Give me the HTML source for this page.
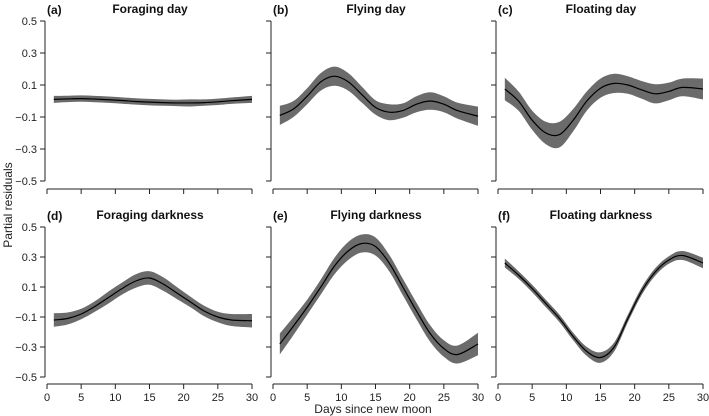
<!DOCTYPE html>
<html><head><meta charset="utf-8"><style>
body{margin:0;background:#fff}
svg{display:block;font-family:"Liberation Sans",Arial,sans-serif}
</style></head><body>
<svg id="c" width="709" height="416"></svg>
<script>
const days=[1,3,5,7,9,11,13,15,17,19,21,23,25,27,30];
const fitA=[0.01,0.013,0.015,0.012,0.008,0.003,-0.003,-0.007,-0.01,-0.012,-0.012,-0.01,-0.005,0.002,0.01];
const seA=[0.022,0.02,0.02,0.02,0.02,0.02,0.02,0.02,0.02,0.02,0.022,0.02,0.02,0.02,0.022];
const fitB=[-0.09,-0.05,0.03,0.12,0.155,0.12,0.04,-0.04,-0.07,-0.06,-0.02,0.0,-0.02,-0.06,-0.095];
const seB=[0.06,0.05,0.05,0.055,0.06,0.055,0.05,0.045,0.05,0.045,0.05,0.055,0.05,0.05,0.06];
const fitC=[0.075,0.0,-0.12,-0.2,-0.21,-0.12,0.0,0.08,0.11,0.1,0.07,0.045,0.06,0.085,0.075];
const seC=[0.07,0.06,0.06,0.07,0.08,0.07,0.06,0.06,0.06,0.055,0.055,0.06,0.055,0.055,0.065];
const fitD=[-0.12,-0.11,-0.08,-0.03,0.03,0.09,0.14,0.16,0.12,0.06,0.0,-0.06,-0.1,-0.12,-0.125];
const seD=[0.045,0.04,0.035,0.035,0.04,0.04,0.045,0.045,0.045,0.04,0.035,0.035,0.035,0.04,0.045];
const fitE=[-0.28,-0.16,-0.035,0.1,0.24,0.34,0.39,0.37,0.26,0.1,-0.06,-0.21,-0.31,-0.35,-0.28];
const seE=[0.07,0.06,0.05,0.05,0.055,0.06,0.06,0.06,0.055,0.055,0.055,0.055,0.055,0.06,0.075];
const fitF=[0.26,0.18,0.09,-0.01,-0.11,-0.23,-0.33,-0.37,-0.3,-0.11,0.07,0.2,0.28,0.31,0.26];
const seF=[0.03,0.025,0.025,0.025,0.025,0.025,0.03,0.035,0.03,0.025,0.025,0.025,0.025,0.03,0.035];
const titles=["Foraging day","Flying day","Floating day","Foraging darkness","Flying darkness","Floating darkness"];
const letters=["(a)","(b)","(c)","(d)","(e)","(f)"];
const fits=[fitA,fitB,fitC,fitD,fitE,fitF];
const ses=[seA,seB,seC,seD,seE,seF];
const yTicks=[0.5,0.3,0.1,-0.1,-0.3,-0.5];
const yTickLabels=["0.5","0.3","0.1","\u22120.1","\u22120.3","\u22120.5"];
const xTicks=[0,5,10,15,20,25,30];

const NS="http://www.w3.org/2000/svg";
const svg=document.getElementById('c');
function mk(tag,attrs,parent){const e=document.createElementNS(NS,tag);for(const k in attrs)e.setAttribute(k,attrs[k]);(parent||svg).appendChild(e);return e;}
function smooth(pts){let d="M"+pts[0][0]+","+pts[0][1];for(let i=0;i<pts.length-1;i++){const p0=pts[Math.max(0,i-1)],p1=pts[i],p2=pts[i+1],p3=pts[Math.min(pts.length-1,i+2)];d+=" C"+(p1[0]+(p2[0]-p0[0])/6)+","+(p1[1]+(p2[1]-p0[1])/6)+" "+(p2[0]-(p3[0]-p1[0])/6)+","+(p2[1]-(p3[1]-p1[1])/6)+" "+p2[0]+","+p2[1];}return d;}
const lefts=[47,273,498];
const rows=[{top:21,bot:181,ax:189},{top:227,bot:377,ax:384}];
for(let p=0;p<6;p++){
  const col=p%3,row=Math.floor(p/3);
  const x0=lefts[col],x1=x0+205,R=rows[row];
  const sx=v=>x0+v/30*(x1-x0);
  const sy=v=>R.top+(0.5-v)*(R.bot-R.top);
  const g=mk('g',{});
  
  
  const up=days.map((d,i)=>[sx(d),sy(fits[p][i]+ses[p][i])]);
  const lo=days.map((d,i)=>[sx(d),sy(fits[p][i]-ses[p][i])]).reverse();
  const band=mk('path',{d:smooth(up)+" L"+lo[0][0]+","+lo[0][1]+smooth(lo).replace(/^M[^C]*/,"")+"Z",fill:"#6b6b6b"},g);
  
  
  const ln=mk('path',{d:smooth(days.map((d,i)=>[sx(d),sy(fits[p][i])])),fill:"none",stroke:"#000","stroke-width":1.2},g);
  
  
  const ya=mk('line',{x1:x0-2,x2:x0-2,y1:sy(0.5),y2:sy(-0.5),stroke:"#222"},g);
  
  
  yTicks.forEach((t,i)=>{mk('line',{x1:x0-7,x2:x0-2,y1:sy(t),y2:sy(t),stroke:"#222"},g);
    if(col===0){const tx=mk('text',{x:x0-10,y:sy(t)+4,"text-anchor":"end","font-size":11,fill:"#222"},g);tx.textContent=yTickLabels[i];
      }});
  const xa=mk('line',{x1:sx(0),x2:sx(30),y1:R.ax,y2:R.ax,stroke:"#222"},g);
  
  
  xTicks.forEach(t=>{mk('line',{x1:sx(t),x2:sx(t),y1:R.ax,y2:R.ax+5,stroke:"#222"},g);
    if(row===1){const tx=mk('text',{x:sx(t),y:R.ax+17,"text-anchor":"middle","font-size":11,fill:"#222"},g);tx.textContent=t;
      }});
  const ti=mk('text',{x:x0+103,y:R.top-8,"text-anchor":"middle","font-size":12,"font-weight":"bold",fill:"#111"},g);
  ti.textContent=titles[p];
  
  
  const le=mk('text',{x:x0,y:R.top-7,"font-size":12,"font-weight":"bold",fill:"#111"},g);
  le.textContent=letters[p];
  
  
}
const yl=mk('text',{x:0,y:0,transform:"translate(12,205) rotate(-90)","text-anchor":"middle","font-size":12,fill:"#222"});
yl.textContent="Partial residuals";


const xl=mk('text',{x:373,y:413,"text-anchor":"middle","font-size":12,fill:"#222"});
xl.textContent="Days since new moon";


</script>
</body></html>
